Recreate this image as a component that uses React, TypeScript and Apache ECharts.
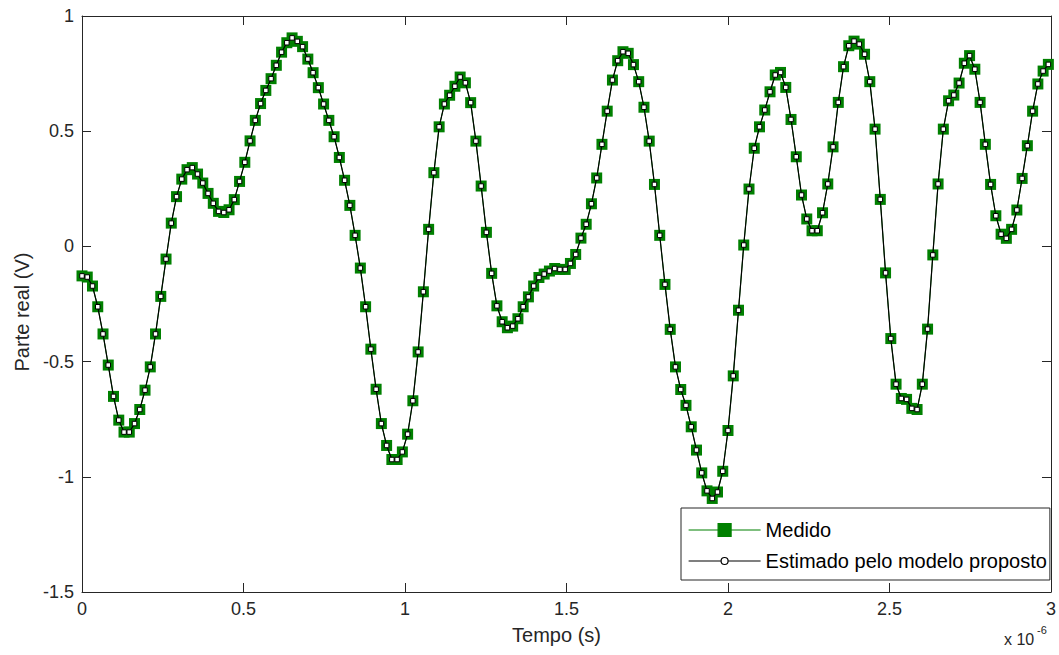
import React, { useEffect, useRef } from "react";
import * as echarts from "echarts";

// Intervalo de amostragem (em microssegundos): 1/61,5 µs
const PASSO_US = 2 / 123;

// Parte real medida (V), uma amostra por marcador
const medido = [
  -0.128, -0.133, -0.172, -0.262, -0.380, -0.515, -0.651, -0.754, -0.806, -0.806,
  -0.769, -0.708, -0.624, -0.523, -0.380, -0.217, -0.055, 0.101, 0.216, 0.292,
  0.333, 0.342, 0.314, 0.275, 0.230, 0.187, 0.152, 0.147, 0.159, 0.203,
  0.282, 0.365, 0.458, 0.547, 0.620, 0.677, 0.728, 0.786, 0.843, 0.884,
  0.905, 0.890, 0.867, 0.813, 0.754, 0.689, 0.618, 0.547, 0.476, 0.386,
  0.287, 0.178, 0.048, -0.094, -0.262, -0.446, -0.620, -0.769, -0.864, -0.925,
  -0.925, -0.892, -0.815, -0.670, -0.458, -0.197, 0.074, 0.320, 0.519, 0.618,
  0.656, 0.695, 0.735, 0.710, 0.624, 0.457, 0.262, 0.061, -0.117, -0.258,
  -0.327, -0.353, -0.346, -0.314, -0.262, -0.219, -0.172, -0.135, -0.120, -0.107,
  -0.096, -0.100, -0.100, -0.074, -0.035, 0.036, 0.096, 0.185, 0.297, 0.443,
  0.587, 0.722, 0.806, 0.845, 0.838, 0.789, 0.715, 0.604, 0.457, 0.269,
  0.048, -0.165, -0.360, -0.523, -0.621, -0.690, -0.783, -0.884, -0.983, -1.061,
  -1.094, -1.066, -0.976, -0.799, -0.562, -0.277, 0.006, 0.249, 0.426, 0.519,
  0.592, 0.671, 0.744, 0.755, 0.690, 0.551, 0.389, 0.223, 0.119, 0.068,
  0.068, 0.146, 0.271, 0.432, 0.625, 0.780, 0.871, 0.891, 0.878, 0.834,
  0.715, 0.509, 0.204, -0.115, -0.400, -0.598, -0.660, -0.664, -0.703, -0.708,
  -0.598, -0.359, -0.037, 0.271, 0.509, 0.632, 0.657, 0.709, 0.795, 0.828,
  0.769, 0.625, 0.443, 0.269, 0.133, 0.053, 0.035, 0.074, 0.158, 0.295,
  0.437, 0.587, 0.705, 0.761, 0.790,
];

// O modelo proposto coincide, na figura, com a medição em todos os pontos
const estimado = medido;

const SERIE_MEDIDO = "Medido";
const SERIE_ESTIMADO = "Estimado pelo modelo proposto";

const EIXO_X = { min: 0, max: 3, interval: 0.5, nome: "Tempo (s)" };
const EIXO_Y = { min: -1.5, max: 1, interval: 0.5, nome: "Parte real (V)" };
const MULTIPLICADOR = { base: "x 10", expoente: "-6" };

const FONT = "'Liberation Sans', Arial, Helvetica, sans-serif";
const COR_EIXO = "#262626";
const VERDE = "#008000";

const tempo = medido.map((_, i) => i * PASSO_US);

const eixoBase = (mostrarRotulos: boolean) => ({
  type: "value" as const,
  axisLine: { show: true, onZero: false, lineStyle: { color: COR_EIXO, width: 1 } },
  axisTick: { show: true, inside: true, length: 9, lineStyle: { color: COR_EIXO, width: 1 } },
  axisLabel: {
    show: mostrarRotulos,
    fontSize: 18,
    color: COR_EIXO,
    fontFamily: FONT,
    margin: 8,
  },
  splitLine: { show: false },
});

export default function App() {
  const ref = useRef<HTMLDivElement>(null);

  useEffect(() => {
    if (!ref.current) return;
    const chart = echarts.init(ref.current, null, { renderer: "svg" });

    const dadosMedido = tempo.map((t, i) => [t, medido[i]]);
    const dadosEstimado = tempo.map((t, i) => [t, estimado[i]]);

    chart.setOption({
      animation: false,
      backgroundColor: "#ffffff",
      grid: { left: 82, right: 8, top: 16, bottom: 63 },
      xAxis: [
        {
          ...eixoBase(true),
          position: "bottom",
          min: EIXO_X.min,
          max: EIXO_X.max,
          interval: EIXO_X.interval,
          name: EIXO_X.nome,
          nameLocation: "middle",
          nameGap: 33,
          nameTextStyle: {
            fontSize: 20,
            color: COR_EIXO,
            fontFamily: FONT,
            padding: [0, 20, 0, 0],
          },
        },
        {
          ...eixoBase(false),
          position: "top",
          min: EIXO_X.min,
          max: EIXO_X.max,
          interval: EIXO_X.interval,
        },
      ],
      yAxis: [
        {
          ...eixoBase(true),
          position: "left",
          min: EIXO_Y.min,
          max: EIXO_Y.max,
          interval: EIXO_Y.interval,
          name: EIXO_Y.nome,
          nameLocation: "middle",
          nameGap: 50,
          nameTextStyle: {
            fontSize: 20,
            color: COR_EIXO,
            fontFamily: FONT,
            padding: [0, 16, 0, 0],
          },
        },
        {
          ...eixoBase(false),
          position: "right",
          min: EIXO_Y.min,
          max: EIXO_Y.max,
          interval: EIXO_Y.interval,
        },
      ],
      legend: {
        left: 681,
        top: 508,
        orient: "vertical",
        align: "left",
        selectedMode: false,
        backgroundColor: "#ffffff",
        borderColor: COR_EIXO,
        borderWidth: 1,
        borderRadius: 0,
        padding: [12, 3, 9, 7],
        itemGap: 11,
        itemWidth: 72,
        itemHeight: 13,
        textStyle: { fontSize: 20, color: "#000", fontFamily: FONT },
        data: [
          {
            name: SERIE_MEDIDO,
            icon: "path://M0 6.5H72M29.5 0H42.5V13H29.5Z",
            itemStyle: { color: VERDE, borderColor: VERDE, borderWidth: 1.2 },
          },
          {
            name: SERIE_ESTIMADO,
            icon:
              "path://M0 0M72 13M0 6.5H32.5M39.5 6.5H72M36 3A3.5 3.5 0 1 1 36 10A3.5 3.5 0 1 1 36 3Z",
            itemStyle: { color: "#ffffff", borderColor: "#000", borderWidth: 1.2 },
          },
        ],
      },
      graphic: [
        {
          type: "text",
          left: 1004,
          top: 631,
          style: {
            text: MULTIPLICADOR.base,
            fontSize: 16,
            fontFamily: FONT,
            fill: COR_EIXO,
          },
        },
        {
          type: "text",
          left: 1037,
          top: 624,
          style: {
            text: MULTIPLICADOR.expoente,
            fontSize: 11,
            fontFamily: FONT,
            fill: COR_EIXO,
          },
        },
      ],
      series: [
        {
          name: SERIE_MEDIDO,
          type: "line",
          xAxisIndex: 0,
          yAxisIndex: 0,
          data: dadosMedido,
          symbol: "rect",
          symbolSize: 11,
          showAllSymbol: true,
          itemStyle: { color: VERDE },
          lineStyle: { color: VERDE, width: 1 },
          z: 2,
          silent: true,
        },
        {
          name: SERIE_ESTIMADO,
          type: "line",
          xAxisIndex: 0,
          yAxisIndex: 0,
          data: dadosEstimado,
          symbol: "rect",
          symbolSize: 4.5,
          showAllSymbol: true,
          itemStyle: { color: "#ffffff", borderColor: "#000", borderWidth: 1 },
          lineStyle: { color: "#000", width: 1.2 },
          z: 3,
          silent: true,
        },
      ],
    });

    return () => chart.dispose();
  }, []);

  return (
    <div
      ref={ref}
      style={{ position: "absolute", left: 0, top: 0, width: 1059, height: 655, background: "#fff" }}
    />
  );
}
